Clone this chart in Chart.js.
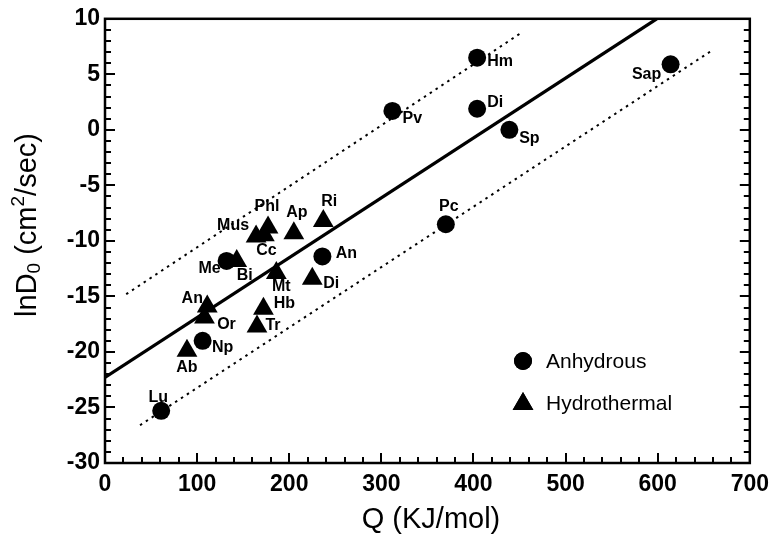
<!DOCTYPE html>
<html lang="en">
  <head>
    <meta charset="UTF-8" />
    <title>lnD0 vs Q</title>
    <script src="https://cdn.jsdelivr.net/npm/chart.js@4/dist/chart.umd.min.js"></script>
    <style>
      body {
        margin: 0;
        background: #fff;
      }
      canvas#chart {
        display: block;
      }
    </style>
  </head>
  <body>
    <canvas id="chart" width="777" height="540"></canvas>
    <script>
      // Anhydrous minerals (circles)
      const anhydrousNames = ["Lu", "Np", "Me", "An", "Pc", "Pv", "Hm", "Di", "Sp", "Sap"];
      const anhydrousQ = [61, 106, 132, 236, 370, 312, 404, 404, 439, 614];
      const anhydrousLnD = [-25.3, -19.0, -11.8, -11.4, -8.5, 1.7, 6.5, 1.9, 0.0, 5.9];

      // Hydrothermal experiments (triangles)
      const hydroNames = ["Ab", "An", "Or", "Bi", "Mus", "Cc", "Phl", "Ap", "Ri", "Mt", "Di", "Hb", "Tr"];
      const hydroQ = [89, 111, 108, 143, 164, 173, 177, 205, 237, 186, 225, 172, 165];
      const hydroLnD = [-19.9, -15.9, -16.9, -11.8, -9.6, -9.5, -8.8, -9.3, -8.2, -12.9, -13.4, -16.1, -17.7];

      // best fit and the two bounding lines
      const fitQ = [0, 599];
      const fitLnD = [-22.3, 10];
      const upperQ = [23, 453];
      const upperLnD = [-14.8, 8.8];
      const lowerQ = [38, 658];
      const lowerLnD = [-26.6, 7.1];

      // axis ticks
      const qTicks = [0, 100, 200, 300, 400, 500, 600, 700];
      const lnDTicks = [-30, -25, -20, -15, -10, -5, 0, 5, 10];

      // label placement around each marker (px)
      const anhydrousLabelPos = [[-3, -13], [20, 7], [-17, 8], [24, -3], [3, -18], [20, 8], [23, 4], [18, -6], [20, 9], [-24, 10]];
      const hydroLabelPos = [[0, 17], [-15, -8], [22, 7], [8, 15], [-23, -11], [2, 15], [-1, -21], [3, -21], [6, -19], [5, 13], [19, 5], [21, -5], [16, -1]];

      const FONT = "'Liberation Sans', Arial, Helvetica, sans-serif";

      const toXY = (xs, ys) => xs.map((x, i) => ({ x: x, y: ys[i] }));

      const frameAndLabels = {
        id: "frameAndLabels",
        afterDatasetsDraw(chart) {
          const ctx = chart.ctx;
          const area = chart.chartArea;
          const xs = chart.scales.x;
          const ys = chart.scales.y;
          ctx.save();
          ctx.setLineDash([]);
          ctx.lineCap = "butt";

          // frame
          ctx.strokeStyle = "#000";
          ctx.lineWidth = 2.5;
          ctx.strokeRect(area.left, area.top, area.right - area.left, area.bottom - area.top);

          // inward ticks
          ctx.lineWidth = 2;
          for (let v = -30; v <= 10; v += 1) {
            const py = Math.round(ys.getPixelForValue(v));
            const len = v % 5 === 0 ? 10 : 6;
            ctx.beginPath();
            ctx.moveTo(area.left, py);
            ctx.lineTo(area.left + len, py);
            ctx.moveTo(area.right, py);
            ctx.lineTo(area.right - len, py);
            ctx.stroke();
          }
          for (let v = 0; v <= 700; v += 20) {
            const px = Math.round(xs.getPixelForValue(v));
            const len = v % 100 === 0 ? 10 : 6;
            ctx.beginPath();
            ctx.moveTo(px, area.bottom);
            ctx.lineTo(px, area.bottom - len);
            ctx.stroke();
          }

          // mineral labels
          ctx.fillStyle = "#000";
          ctx.font = "bold 16px " + FONT;
          ctx.textAlign = "center";
          ctx.textBaseline = "middle";
          const drawNames = (dsIndex, names, offsets) => {
            const meta = chart.getDatasetMeta(dsIndex);
            meta.data.forEach((pt, i) => {
              ctx.fillText(names[i], pt.x + offsets[i][0], pt.y + offsets[i][1]);
            });
          };
          drawNames(0, anhydrousNames, anhydrousLabelPos);
          drawNames(1, hydroNames, hydroLabelPos);

          // legend
          const lx = 523;
          Chart.helpers.drawPoint(ctx, { pointStyle: "circle", radius: 9, rotation: 0, borderWidth: 0 }, lx, 361);
          ctx.fill();
          Chart.helpers.drawPoint(ctx, { pointStyle: "triangle", radius: 12, rotation: 0, borderWidth: 0 }, lx, 404);
          ctx.fill();
          ctx.font = "21px " + FONT;
          ctx.textAlign = "left";
          ctx.fillText("Anhydrous", 546, 362);
          ctx.fillText("Hydrothermal", 546, 404);

          // axis titles
          ctx.font = "29px " + FONT;
          ctx.textAlign = "center";
          ctx.fillText("Q (KJ/mol)", 431, 520);

          ctx.translate(28, 225);
          ctx.rotate(-Math.PI / 2);
          const parts = [
            ["lnD", 29, 0],
            ["0", 19, 7],
            [" (cm", 29, 0],
            ["2", 19, -9],
            ["/sec)", 29, 0],
          ];
          let total = 0;
          parts.forEach((p) => {
            ctx.font = p[1] + "px " + FONT;
            total += ctx.measureText(p[0]).width;
          });
          let cx = -total / 2;
          ctx.textAlign = "left";
          parts.forEach((p) => {
            ctx.font = p[1] + "px " + FONT;
            ctx.fillText(p[0], cx, p[2]);
            cx += ctx.measureText(p[0]).width;
          });
          ctx.restore();
        },
      };

      new Chart(document.getElementById("chart"), {
        type: "scatter",
        data: {
          datasets: [
            {
              label: "Anhydrous",
              data: toXY(anhydrousQ, anhydrousLnD),
              pointStyle: "circle",
              pointRadius: 9,
              backgroundColor: "#000",
              borderColor: "#000",
              borderWidth: 0,
              order: 0,
            },
            {
              label: "Hydrothermal",
              data: toXY(hydroQ, hydroLnD),
              pointStyle: "triangle",
              pointRadius: 12,
              backgroundColor: "#000",
              borderColor: "#000",
              borderWidth: 0,
              order: 0,
            },
            {
              label: "fit",
              data: toXY(fitQ, fitLnD),
              showLine: true,
              pointRadius: 0,
              borderColor: "#000",
              borderWidth: 3.2,
              order: 1,
            },
            {
              label: "upper",
              data: toXY(upperQ, upperLnD),
              showLine: true,
              pointRadius: 0,
              borderColor: "#000",
              borderWidth: 2,
              borderDash: [2.5, 4.5],
              order: 1,
            },
            {
              label: "lower",
              data: toXY(lowerQ, lowerLnD),
              showLine: true,
              pointRadius: 0,
              borderColor: "#000",
              borderWidth: 2,
              borderDash: [2.5, 4.5],
              order: 1,
            },
          ],
        },
        options: {
          responsive: false,
          animation: false,
          devicePixelRatio: 1,
          layout: { padding: { top: 16, right: 26, left: 0, bottom: 0 } },
          plugins: {
            legend: { display: false },
            tooltip: { enabled: false },
          },
          scales: {
            x: {
              type: "linear",
              min: 0,
              max: 700,
              afterBuildTicks: (scale) => {
                scale.ticks = qTicks.map((v) => ({ value: v }));
              },
              afterFit: (scale) => {
                scale.height = 77;
              },
              grid: { display: false, drawTicks: false },
              border: { display: false },
              ticks: {
                color: "#000",
                padding: 8,
                maxRotation: 0,
                font: { family: FONT, size: 23, weight: "bold" },
              },
            },
            y: {
              type: "linear",
              min: -30,
              max: 10,
              afterBuildTicks: (scale) => {
                scale.ticks = lnDTicks.map((v) => ({ value: v }));
              },
              afterFit: (scale) => {
                scale.width = 105;
              },
              grid: { display: false, drawTicks: false },
              border: { display: false },
              ticks: {
                color: "#000",
                padding: 5,
                font: { family: FONT, size: 23, weight: "bold" },
              },
            },
          },
        },
        plugins: [frameAndLabels],
      });
    </script>
  </body>
</html>
